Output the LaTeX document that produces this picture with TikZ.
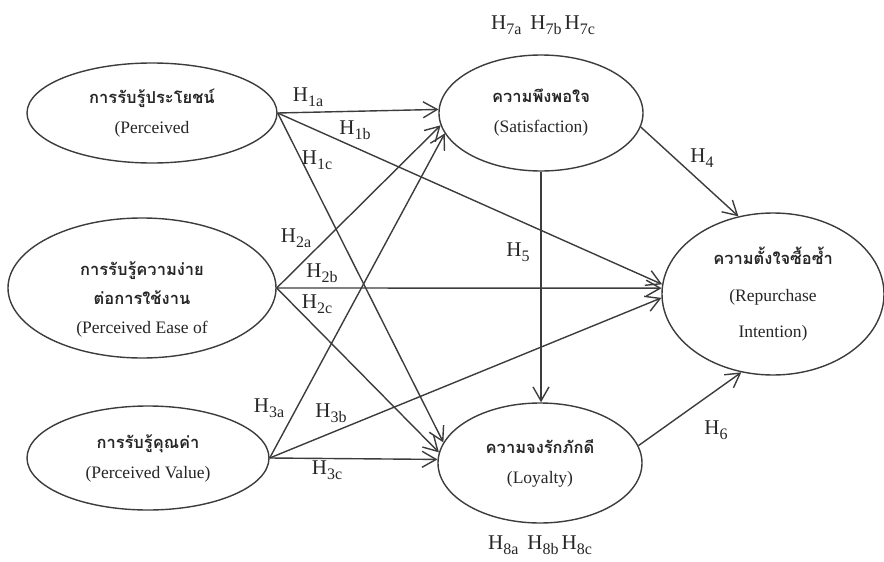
\documentclass[tikz,border=0pt]{standalone}
\usepackage{fontspec}
\setmainfont{Liberation Serif}
\newfontfamily\thaifont[Script=Thai]{Loma}
\usetikzlibrary{shapes.geometric,arrows.meta,positioning}

\definecolor{linegray}{HTML}{3C3C3C}
\newcommand{\thline}[1]{{\thaifont\bfseries\fontsize{16.5}{19}\selectfont #1}}
\newcommand{\hlab}[1]{H\raisebox{-5pt}{\fontsize{16}{16}\selectfont #1}}

\begin{document}
\begin{tikzpicture}[x=1pt,y=-1pt,
    semithick,
    >={Straight Barb[length=14pt,width=16pt]},
    construct/.style={ellipse, draw=linegray, line width=1.4pt, inner sep=0pt,
      align=center, font=\fontsize{17.5}{20}\selectfont, text=black!85},
    path/.style={->, draw=linegray, line width=1.4pt},
    hyp/.style={font=\fontsize{21}{24}\selectfont, text=black!85, inner sep=0pt}
    ]
\useasboundingbox (0,0) rectangle (884,562);

% constructs
\node[construct, minimum width=250pt, minimum height=100pt] (PU) at (152,113)
  {\thline{การรับรู้ประโยชน์}\\[10pt](Perceived};
\node[construct, minimum width=268pt, minimum height=140pt] (PE) at (142,288)
  {\rule{0pt}{36pt}\thline{การรับรู้ความง่าย}\\[9pt]\thline{ต่อการใช้งาน}\\[9pt](Perceived Ease of};
\node[construct, minimum width=242pt, minimum height=104pt] (PV) at (148,458)
  {\thline{การรับรู้คุณค่า}\\[10pt](Perceived Value)};
\node[construct, minimum width=204pt, minimum height=116pt] (SA) at (541,113)
  {\thline{ความพึงพอใจ}\\[10pt](Satisfaction)};
\node[construct, minimum width=204pt, minimum height=120pt] (LO) at (540,463)
  {\thline{ความจงรักภักดี}\\[10pt](Loyalty)};
\node[construct, minimum width=222pt, minimum height=162pt] (RI) at (773,294)
  {\thline{ความตั้งใจซื้อซ้ำ}\\[17pt](Repurchase\\[16pt]Intention)};

% paths
\draw[path] (PU.east) -- (SA.178);
\draw[path] (PU.east) -- (RI.175);
\draw[path] (PU.east) -- (LO.168);
\draw[path] (PE.east) -- (SA.187);
\draw[path] (PE.east) -- (RI.177);
\draw[path] (PE.east) -- (LO.174);
\draw[path] (PV.east) -- (SA.192);
\draw[path] (PV.east) -- (RI.182);
\draw[path] (PV.east) -- (LO.178);
\draw[path] (SA.-8) -- (RI.114);
\draw[path] (SA.south) -- (SA.south |- LO.north);
\draw[path] (LO.10) -- (RI.248);

% hypotheses
\node[hyp] (h1a) at (308,97) {\hlab{1a}};
\node[hyp] (h1b) at (355,130) {\hlab{1b}};
\node[hyp] (h1c) at (317,160) {\hlab{1c}};
\node[hyp] (h2a) at (296,238) {\hlab{2a}};
\node[hyp] (h2b) at (322,273) {\hlab{2b}};
\node[hyp] (h2c) at (317,304) {\hlab{2c}};
\node[hyp] (h3a) at (269,408) {\hlab{3a}};
\node[hyp] (h3b) at (331,413) {\hlab{3b}};
\node[hyp] (h3c) at (327,470) {\hlab{3c}};
\node[hyp] (h4) at (702,158) {\hlab{4}};
\node[hyp] (h5) at (518,252) {\hlab{5}};
\node[hyp] (h6) at (716,430) {\hlab{6}};
\node[hyp] (h7) at (543,25) {\hlab{7a}\hspace{9pt}\hlab{7b}\hspace{3pt}\hlab{7c}};
\node[hyp] (h8) at (540,545) {\hlab{8a}\hspace{9pt}\hlab{8b}\hspace{3pt}\hlab{8c}};
\end{tikzpicture}
\end{document}
